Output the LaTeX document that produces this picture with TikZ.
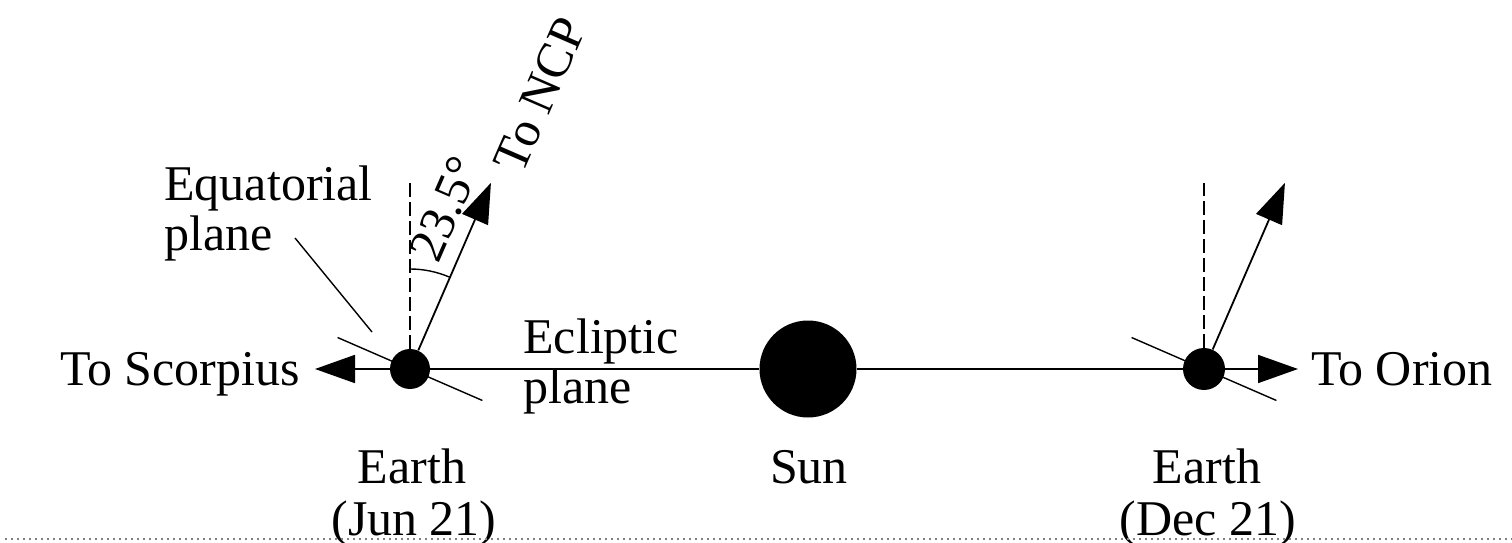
\documentclass[tikz,border=0pt]{standalone}
\usepackage{fontspec}
\setmainfont{Liberation Serif}
\usetikzlibrary{arrows.meta,calc}
\begin{document}
\begin{tikzpicture}[x=0.5pt,y=0.5pt,
  lbl/.style={font=\fontsize{25}{25}\selectfont, inner sep=0pt},
  body/.style={circle, fill=black, inner sep=0pt},
  ln/.style={line width=0.9pt},
  arr/.style={line width=0.9pt, -{Triangle[length=20pt,width=14pt]}},
  axisdash/.style={line width=0.9pt, dash pattern=on 7pt off 2.5pt},
  thin/.style={line width=0.7pt}]
\useasboundingbox (0,0) rectangle (1512,542);
\fill[white] (0,0) rectangle (1512,542);
% equatorial plane lines (behind earths)
\draw[thin] ($(410,173)+(156.5:79)$) coordinate (eqA1) -- ($(410,173)+(-23.5:79)$) coordinate (eqB1);
\draw[thin] ($(1204,173)+(156.5:79)$) coordinate (eqA2) -- ($(1204,173)+(-23.5:79)$) coordinate (eqB2);
% bodies
\node[body, minimum size=20pt] (earth1) at (410,173) {};
\node[body, minimum size=48.5pt] (sun) at (808,173) {};
\node[body, minimum size=21pt] (earth2) at (1204,173) {};
% ecliptic
\draw[ln] (earth1) -- (sun);
\draw[ln] (sun) -- (earth2);
% directions
\coordinate (scorpTip) at (315,173);
\coordinate (orionTip) at (1298,173);
\draw[arr] (earth1.west) -- (scorpTip);
\draw[arr] (earth2.east) -- (orionTip);
% vertical dashed and NCP arrows
\coordinate (vert1) at (410,359);
\coordinate (vert2) at (1204,359);
\draw[axisdash] (earth1.north) -- (vert1);
\draw[axisdash] (earth2.north) -- (vert2);
\coordinate (ncp1) at ($(410,173)+(66.5:203)$);
\coordinate (ncp2) at ($(1204,173)+(66.5:203)$);
\draw[arr] (earth1.66.5) -- (ncp1);
\draw[arr] (earth2.66.5) -- (ncp2);
% angle arc
\draw[thin] ($(410,173)+(90:100)$) arc[start angle=90, end angle=66.5, radius=100];
% leader line for equatorial plane
\coordinate (eqLead1) at (295,304);
\coordinate (eqLead2) at (372,210);
\draw[thin] (eqLead1) -- (eqLead2);
% labels
\node[lbl, anchor=base east] (scorp) at (300,157) {To Scorpius};
\node[lbl, anchor=base west] (orion) at (1311,157) {To Orion};
\node[lbl, anchor=base west] (eq1) at (164,342) {Equatorial};
\node[lbl, anchor=base west] (eq2) at (164,292) {plane};
\node[lbl, anchor=base west] (ec1) at (523,189) {Ecliptic};
\node[lbl, anchor=base west] (ec2) at (523,139) {plane};
\node[lbl, anchor=base] (e1a) at (412,59) {Earth};
\node[lbl, anchor=base] (e1b) at (414,7) {(Jun 21)};
\node[lbl, anchor=base] (suntext) at (809,59) {Sun};
\node[lbl, anchor=base] (e2a) at (1207,59) {Earth};
\node[lbl, anchor=base] (e2b) at (1208,7) {(Dec 21)};
\node[lbl, rotate=66.5] (ang) at (445,333) {23.5°};
\node[lbl, rotate=66.5] (ncptext) at (540,447) {To NCP};
% bottom dotted rule
\draw[gray, line width=1pt, dotted] (5,3) -- (1512,3);
\end{tikzpicture}
\end{document}
